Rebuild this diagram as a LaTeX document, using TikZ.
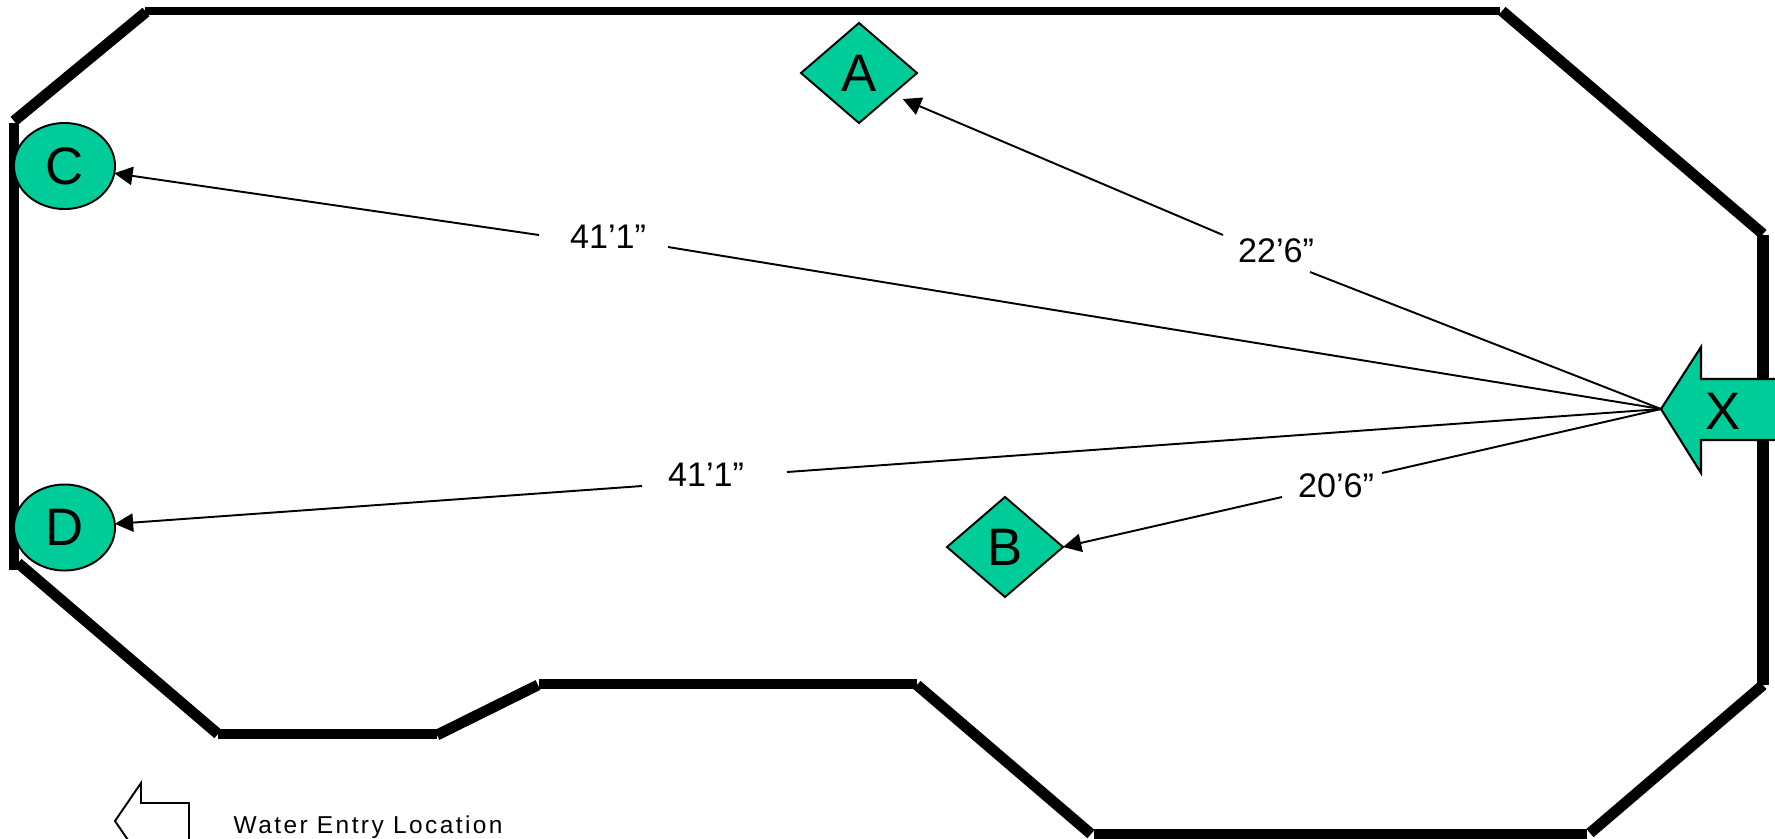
\documentclass[tikz,border=0pt]{standalone}
\usepackage{fontspec}
\setmainfont{Liberation Sans}
\newfontfamily\legendfont[LetterSpace=10]{Liberation Sans}
\usetikzlibrary{arrows.meta,shapes.geometric}
\definecolor{poolgreen}{HTML}{00CC99}
\tikzset{
  wall/.style={line width=3.1pt},
  conn/.style={line width=0.55pt},
  connto/.style={conn,-{Triangle[length=5.2pt,width=5.2pt]}},
  station/.style={draw=black,line width=0.55pt,fill=poolgreen,inner sep=0pt,outer sep=0pt,font=\fontsize{15}{16}\selectfont},
  dist/.style={inner sep=0pt,font=\fontsize{9.7}{11}\selectfont},
}
\begin{document}
\begin{tikzpicture}[x=0.01cm,y=-0.01cm]
\path[use as bounding box,clip] (0,0) rectangle (1775,838);
% wall of the pool, piece by piece
\draw[wall] (14,123) -- (14,570);
\draw[wall] (14,121) -- (146,12);
\draw[wall,line width=2.3pt] (145,11) -- (1500,11);
\draw[wall] (1502,11) -- (1763,234);
\draw[wall,line width=3.3pt] (1763,235) -- (1763,685);
\draw[wall] (1763,685) -- (1590,833);
\draw[wall] (1587,834) -- (1094,834);
\draw[wall] (1091,834) -- (917,685);
\draw[wall] (917,684) -- (539,684);
\draw[wall] (538,685) -- (437,735);
\draw[wall] (437,734) -- (218,734);
\draw[wall] (218,734) -- (18,563);
% stations
\node[station,diamond,aspect=1.16,minimum width=116*0.2845pt,minimum height=100*0.2845pt] (A) at (859,73) {A};
\node[station,diamond,aspect=1.16,minimum width=116*0.2845pt,minimum height=100*0.2845pt] (B) at (1005,547) {B};
\node[station,ellipse,minimum width=101*0.2845pt,minimum height=86*0.2845pt] (C) at (64.5,166) {C};
\node[station,ellipse,minimum width=101*0.2845pt,minimum height=86*0.2845pt] (D) at (64.5,527.5) {D};
% entry arrow
\coordinate (tipX) at (1661,409);
\draw[station,line width=0.6pt] (tipX) -- (1701,347) -- (1701,379) -- (1785,379) -- (1785,440) -- (1701,440) -- (1701,473) -- cycle;
\node[font=\fontsize{15}{16}\selectfont,inner sep=0pt] (X) at (1723,411) {X};
% distances
\node[dist] (dC) at (608,237) {41’1”};
\node[dist] (dA) at (1276,251) {22’6”};
\node[dist] (dB) at (1336,486) {20’6”};
\node[dist] (dD) at (706,475) {41’1”};
% ends of the lines beside the distances
\coordinate (cL) at (539,235);
\coordinate (cR) at (668,247);
\coordinate (aL) at (1223,235);
\coordinate (aR) at (1310,272);
\coordinate (bL) at (1282,497);
\coordinate (bR) at (1382,473);
\coordinate (dL) at (642,486);
\coordinate (dR) at (787,472);
\foreach \p in {cR,aR,bR,dR}
	\draw[conn] (tipX) -- (\p);
\draw[connto] (cL) -- (C);
\draw[connto,shorten >=3.3pt] (aL) -- (A.-33);
\draw[connto] (bL) -- (B.east);
\draw[connto] (dL) -- (D);
% legend
\draw[line width=0.55pt] (115,821) -- (141,783) -- (141,803) -- (189,803) -- (189,845) -- (141,845) -- (141,859) -- cycle;
\node[anchor=base west,inner sep=0pt,font=\fontsize{6.95}{8}\selectfont\legendfont] (legend) at (233,833) {Water Entry Location};
\end{tikzpicture}
\end{document}
